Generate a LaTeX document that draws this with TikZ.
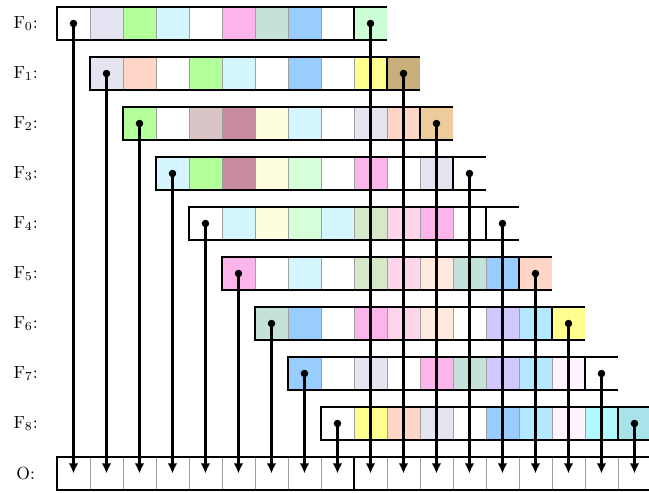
\documentclass[tikz,border=0pt]{standalone}
\usepackage{tikz}
\usetikzlibrary{arrows.meta}

\definecolor{cLav}{HTML}{E5E5F2}
\definecolor{cGrn}{HTML}{B3FF99}
\definecolor{cCyn}{HTML}{D5F5FF}
\definecolor{cPnk}{HTML}{FBB5EB}
\definecolor{cTea}{HTML}{C5E2DA}
\definecolor{cBlu}{HTML}{99CCFF}
\definecolor{cMnt}{HTML}{CCFFD5}
\definecolor{cPch}{HTML}{FFD5C8}
\definecolor{cYel}{HTML}{FFFF8F}
\definecolor{cTan}{HTML}{C8AE78}
\definecolor{cDus}{HTML}{D9C5C5}
\definecolor{cMau}{HTML}{C88AA0}
\definecolor{cLyl}{HTML}{FFFDE0}
\definecolor{cLgr}{HTML}{D5FFD9}
\definecolor{cOrg}{HTML}{EDCB9A}
\definecolor{cSag}{HTML}{D5E8C8}
\definecolor{cLpk}{HTML}{FFD5EB}
\definecolor{cLpc}{HTML}{FFE8DD}
\definecolor{cPur}{HTML}{D0C8FF}
\definecolor{cLbl}{HTML}{B3E8FF}
\definecolor{cVlp}{HTML}{FFF3FF}
\definecolor{cAcy}{HTML}{B0F8FC}
\definecolor{cTcy}{HTML}{A8E3EA}

\begin{document}
\begin{tikzpicture}[x=0.66cm, y=0.66cm,
  cell/.style={draw=gray!75, line width=0.4pt, minimum width=0.66cm, minimum height=0.66cm, inner sep=0pt, outer sep=0pt, anchor=north west},
  lastcell/.style={minimum width=0.66cm, minimum height=0.66cm, inner sep=0pt, outer sep=0pt, anchor=north west},
  frame/.style={line width=1.3pt},
  dotmark/.style={circle, fill=black, inner sep=0pt, minimum size=1.5mm},
  arr/.style={-{Latex[length=2mm, width=1.9mm]}, line width=1.3pt},
  lbl/.style={font=\normalsize}
]
\useasboundingbox (-1.727,0.212) rectangle (17.94,-14.70);

% input rows F0..F8, nine cells and one trailing cell
\foreach \i/\cols/\last in {
  0/{white,cLav,cGrn,cCyn,white,cPnk,cTea,cBlu,white}/cMnt,
  1/{cLav,cPch,white,cGrn,cCyn,white,cBlu,white,cYel}/cTan,
  2/{cGrn,white,cDus,cMau,cLyl,cCyn,white,cLav,cPch}/cOrg,
  3/{cCyn,cGrn,cMau,cLyl,cLgr,white,cPnk,white,cLav}/white,
  4/{white,cCyn,cLyl,cLgr,cCyn,cSag,cLpk,cPnk,white}/white,
  5/{cPnk,white,cCyn,white,cSag,cLpk,cLpc,cTea,cBlu}/cPch,
  6/{cTea,cBlu,white,cPnk,cLpk,cLpc,white,cPur,cLbl}/cYel,
  7/{cBlu,white,cLav,white,cPnk,cTea,cPur,cLbl,cVlp}/white,
  8/{white,cYel,cPch,cLav,white,cBlu,cLbl,cVlp,cAcy}/cTcy} {
  \foreach \c [count=\k from 0] in \cols
    \node[cell, fill=\c] (f\i-\k) at (\i+\k, -1.5152*\i) {};
  \node[lastcell, fill=\last] (f\i-9) at (\i+9, -1.5152*\i) {};
  \draw[frame] (f\i-0.north west) rectangle (f\i-8.south east);
  \draw[frame] (f\i-8.north east) -- (f\i-9.north east);
  \draw[frame] (f\i-8.south east) -- (f\i-9.south east);
  \node[lbl] (lf\i) at (-0.95, -1.5152*\i-0.5) {F$_{\i}$:};
}

% output row
\foreach \k in {0,...,17}
  \node[cell, fill=white] (o\k) at (\k, -13.636) {};
\draw[frame] (o0.north west) rectangle (o8.south east);
\draw[frame] (o8.north east) -- (o17.north east);
\draw[frame] (o8.south east) -- (o17.south east);
\node[lbl] (lo) at (-0.95, -14.136) {O:};

% taps
\foreach \i in {0,...,8} {
  \pgfmathtruncatemacro{\j}{\i+9}
  \draw[arr] (f\i-0.center) -- (o\i.center);
  \draw[arr] (f\i-9.center) -- (o\j.center);
  \node[dotmark] (da\i) at (f\i-0.center) {};
  \node[dotmark] (db\i) at (f\i-9.center) {};
}
\end{tikzpicture}
\end{document}
